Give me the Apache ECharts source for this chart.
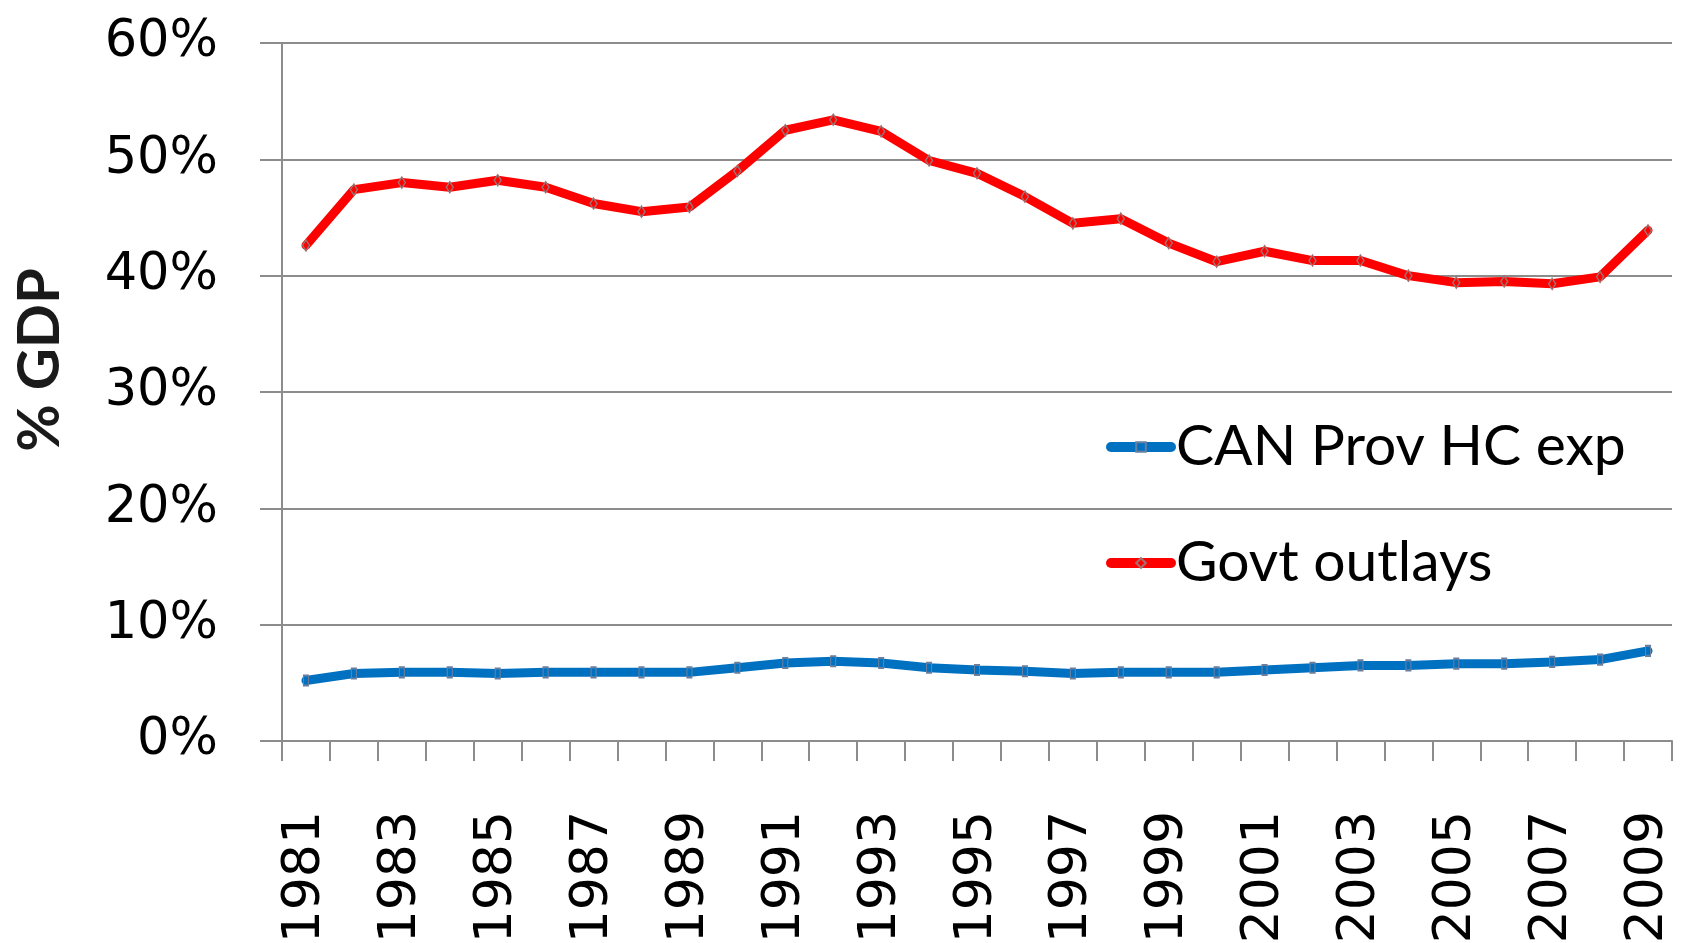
<!DOCTYPE html>
<html>
<head>
<meta charset="utf-8">
<script src="https://cdn.jsdelivr.net/npm/echarts@6/dist/echarts.min.js"></script>
<style>
html,body{margin:0;padding:0;background:#fff;}
#chart{width:1681px;height:943px;}
</style>
</head>
<body>
<div id="chart"></div>
<script>
var years = ['1981','1982','1983','1984','1985','1986','1987','1988','1989','1990','1991','1992','1993','1994','1995','1996','1997','1998','1999','2000','2001','2002','2003','2004','2005','2006','2007','2008','2009'];
var provHC = [5.2,5.8,5.9,5.9,5.8,5.9,5.9,5.9,5.9,6.3,6.7,6.85,6.7,6.3,6.1,6.0,5.8,5.9,5.9,5.9,6.1,6.3,6.5,6.5,6.65,6.65,6.8,7.0,7.75];
var govtOutlays = [42.6,47.4,48.0,47.6,48.2,47.6,46.2,45.5,45.9,49.0,52.5,53.4,52.4,49.9,48.8,46.8,44.5,44.9,42.8,41.2,42.1,41.3,41.3,40.0,39.4,39.5,39.3,39.9,43.9];
var seriesNames = ['CAN Prov HC exp','Govt outlays'];
var yTitle = '% GDP';

var gridColor = '#8c8c8c';
var chart = echarts.init(document.getElementById('chart'), null, {renderer:'canvas'});
chart.setOption({
  animation:false,
  backgroundColor:'#ffffff',
  grid:{left:282, right:9, top:43, bottom:202, containLabel:false, outerBoundsMode:'none'},
  xAxis:{
    type:'category',
    data:years,
    boundaryGap:true,
    axisLine:{show:true, lineStyle:{color:gridColor, width:2}},
    axisTick:{show:true, interval:0, length:20, lineStyle:{color:gridColor, width:2}},
    axisLabel:{interval:1, rotate:90, margin:70, color:'#000', fontFamily:'DejaVu Sans', fontSize:52},
    splitLine:{show:false}
  },
  yAxis:{
    type:'value',
    min:0, max:60, interval:10,
    axisLine:{show:true, lineStyle:{color:gridColor, width:2}},
    axisTick:{show:true, length:22, lineStyle:{color:gridColor, width:2}},
    axisLabel:{formatter:'{value}%', margin:64, color:'#000', fontFamily:'DejaVu Sans', fontSize:51},
    splitLine:{show:true, lineStyle:{color:gridColor, width:2}}
  },
  legend:{
    orient:'vertical',
    left:1106, top:417, padding:0,
    itemWidth:60, itemHeight:12, itemGap:56,
    lineStyle:{width:10, cap:'round'},
    textStyle:{fontFamily:'Lato', fontSize:57, color:'#000', lineHeight:60, padding:[0,0,0,0]},
    data:seriesNames
  },
  graphic:[{
    type:'text', x:40, y:360, rotation:Math.PI/2,
    style:{text:yTitle, fontFamily:'Lato', fontWeight:'bold', fontSize:58, fill:'#1a1a1a', align:'center', verticalAlign:'middle'}
  }],
  series:[
    {
      name:seriesNames[0], type:'line', data:provHC,
      lineStyle:{color:'#0070C0', width:9, cap:'round', join:'round'},
      itemStyle:{color:'#0070C0', borderColor:'#6a7fa0', borderWidth:1.5},
      symbol:'rect', symbolSize:[5,10], showSymbol:true, z:3
    },
    {
      name:seriesNames[1], type:'line', data:govtOutlays,
      lineStyle:{color:'#FF0000', width:9, cap:'round', join:'round'},
      itemStyle:{color:'#FF0000', borderColor:'#a07070', borderWidth:1.5},
      symbol:'diamond', symbolSize:[7,11], showSymbol:true, z:3
    }
  ]
});
</script>
</body>
</html>
